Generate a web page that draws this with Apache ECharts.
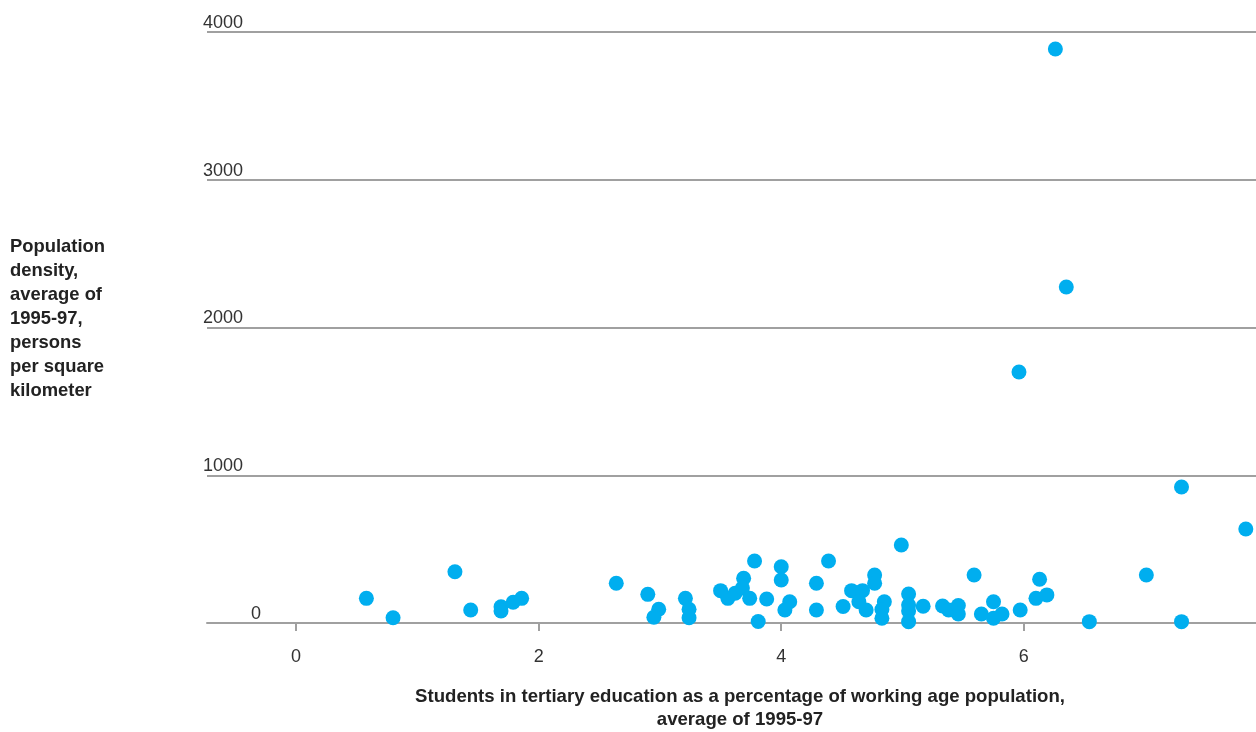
<!DOCTYPE html>
<html>
<head>
<meta charset="utf-8">
<style>
  html, body { margin: 0; padding: 0; background: #ffffff; }
  #chart { width: 1256px; height: 732px; }
</style>
<script src="https://cdn.jsdelivr.net/npm/echarts@6/dist/echarts.min.js"></script>
</head>
<body>
<div id="chart"></div>
<script>
// Students in tertiary education (% of working age population), avg 1995-97
const studentsPct = [
  0.58, 0.80, 1.31, 1.44, 1.69, 1.69, 1.79, 1.86,
  2.64, 2.90, 2.99, 2.95, 3.21, 3.24, 3.24,
  3.50, 3.56, 3.62, 3.69, 3.68, 3.74, 3.78, 3.88, 3.81,
  4.00, 4.00, 4.07, 4.03, 4.29, 4.29, 4.39,
  4.51, 4.58, 4.67, 4.64, 4.70, 4.77, 4.77, 4.85, 4.83, 4.83,
  4.99, 5.05, 5.05, 5.05, 5.05, 5.17, 5.33, 5.38, 5.46, 5.46,
  5.59, 5.65, 5.75, 5.75, 5.82, 5.97, 6.10, 6.13, 6.19,
  6.54, 7.01, 7.30, 6.26, 6.35, 5.96, 7.30, 7.83
];
// Population density (persons per square kilometer), avg 1995-97
const popDensity = [
  167, 36, 347, 88, 110, 81, 140, 167,
  269, 194, 93, 39, 167, 93, 36,
  219, 167, 201, 303, 237, 167, 420, 162, 10,
  381, 291, 144, 88, 269, 88, 420,
  112, 219, 219, 144, 88, 325, 269, 144, 91, 32,
  528, 196, 122, 81, 9, 113, 115, 88, 118, 61,
  325, 61, 144, 32, 61, 88, 167, 296, 190,
  9, 325, 9, 3885, 2274, 1699, 920, 636
];
const xTickValues = [0, 2, 4, 6];
const xTitle = 'Students in tertiary education as a percentage of working age population,\naverage of 1995-97';
const yTitle = 'Population\ndensity,\naverage of\n1995-97,\npersons\nper square\nkilometer';

const points = studentsPct.map((x, i) => [x, popDensity[i]]);

const chart = echarts.init(document.getElementById('chart'), null, { renderer: 'canvas' });
const fontFam = "'Liberation Sans', Arial, Helvetica, sans-serif";
const gridColor = '#a0a0a0';

chart.setOption({
  animation: false,
  backgroundColor: '#ffffff',
  grid: { left: 207, right: 0, top: 32, bottom: 109 },
  xAxis: {
    type: 'value',
    min: -0.734,
    max: 7.914,
    axisLine: { show: true, lineStyle: { color: gridColor, width: 2 } },
    axisTick: { show: true, customValues: xTickValues, length: 8, lineStyle: { color: gridColor, width: 2 } },
    axisLabel: {
      customValues: xTickValues,
      margin: 25,
      fontSize: 18,
      fontFamily: fontFam,
      color: '#333333'
    },
    splitLine: { show: false }
  },
  yAxis: {
    type: 'value',
    min: 0,
    max: 4000,
    interval: 1000,
    axisLine: { show: false },
    axisTick: { show: false },
    axisLabel: {
      inside: true,
      margin: -4,
      verticalAlign: 'bottom',
      align: 'left',
      fontSize: 18,
      fontFamily: fontFam,
      color: '#333333',
      formatter: function (v) { return v === 0 ? '{z|0}' : '{a|' + v + '}'; },
      rich: {
        a: { fontSize: 18, fontFamily: fontFam, color: '#333333', lineHeight: 18, padding: [0, 0, 0, 0] },
        z: { fontSize: 18, fontFamily: fontFam, color: '#333333', lineHeight: 18, padding: [0, 0, 0, 48] }
      }
    },
    splitLine: { show: true, lineStyle: { color: gridColor, width: 2 } }
  },
  graphic: [
    {
      type: 'text',
      left: 10,
      top: 235,
      style: {
        text: yTitle,
        font: "bold 18.4px 'Liberation Sans', Arial, sans-serif",
        fill: '#222222',
        lineHeight: 24
      }
    },
    {
      type: 'text',
      x: 740,
      y: 685,
      style: {
        text: xTitle,
        font: "bold 18.6px 'Liberation Sans', Arial, sans-serif",
        fill: '#222222',
        lineHeight: 23,
        align: 'center',
        verticalAlign: 'top'
      }
    }
  ],
  series: [{
    type: 'scatter',
    data: points,
    symbol: 'circle',
    symbolSize: 15,
    itemStyle: { color: '#00AEEF', opacity: 1 },
    clip: false
  }]
});
</script>
</body>
</html>
